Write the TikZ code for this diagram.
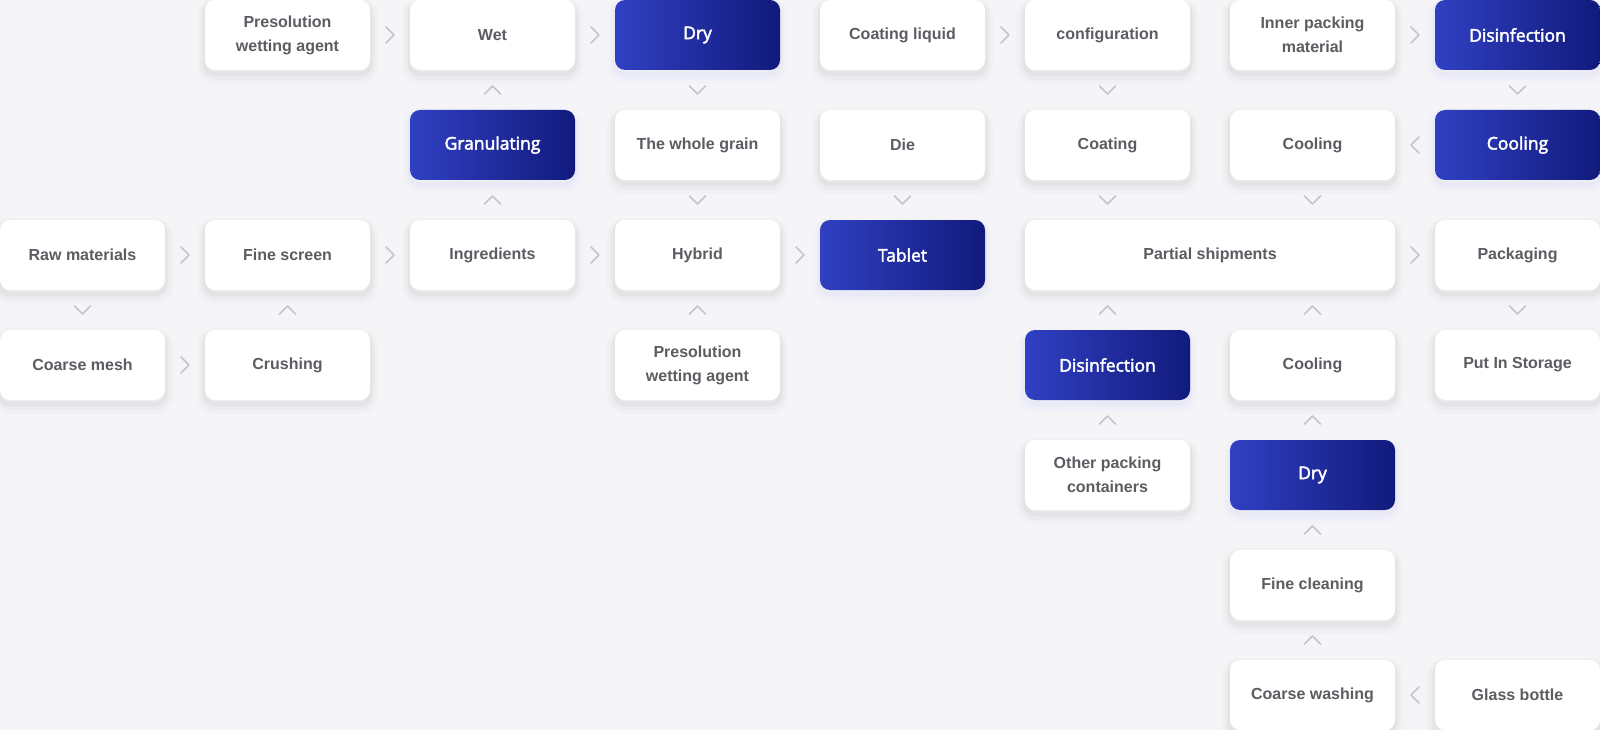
\documentclass[tikz,border=0pt]{standalone}
\usepackage{fontspec}
\setmainfont{Liberation Sans}
\newfontfamily\opensans{Open Sans}[FakeBold=2.6]
\usepackage{tikz}
\usetikzlibrary{decorations.markings}

\definecolor{bgcol}{HTML}{F5F5F7}
\definecolor{txtgrey}{HTML}{5C5C62}
\definecolor{blueL}{HTML}{3040C2}
\definecolor{blueR}{HTML}{111A7C}
\definecolor{chevgrey}{HTML}{C4C4CA}
\definecolor{glowblue}{HTML}{5C6CFF}

\tikzset{
  glow/.style={
    preaction={draw=#1, line width=16, draw opacity=0.015, transform canvas={yshift=-6}},
    preaction={draw=#1, line width=10, draw opacity=0.02, transform canvas={yshift=-5}},
    preaction={draw=#1, line width=5, draw opacity=0.03, transform canvas={yshift=-4}}},
  base/.style={rounded corners=10, minimum width=165, minimum height=70,
    inner sep=0, align=center},
  box/.style={base, glow=black, fill=white, text=txtgrey,
    font=\bfseries\fontsize{16}{24}\selectfont},
  hot/.style={base, glow=glowblue, left color=blueL, right color=blueR, text=white,
    font=\opensans\fontsize{17.5}{22}\selectfont},
  chevline/.style={draw=chevgrey, line width=1.6, line cap=round, line join=round},
  chev/.style={postaction=decorate, decoration={markings,
    mark=at position 0.5 with {\draw[chevline] (-4,-8) -- (4,0) -- (-4,8);}}}
}

\begin{document}
\begin{tikzpicture}[x=1pt,y=-1pt]
% Canvas
\path[use as bounding box, fill=bgcol] (0,0) rectangle (1600,730);
% Row 1
\node[box] (presol1) at (287.5,35) {Presolution\\wetting agent};
\node[box] (wet) at (492.5,35) {Wet};
\node[hot] (dry1) at (697.5,35) {Dry};
\node[box] (coatliq) at (902.5,35) {Coating liquid};
\node[box] (config) at (1107.5,35) {configuration};
\node[box] (inner) at (1312.5,35) {Inner packing\\material};
\node[hot] (disinf1) at (1517.5,35) {Disinfection};
% Row 2
\node[hot] (gran) at (492.5,145) {Granulating};
\node[box] (grain) at (697.5,145) {The whole grain};
\node[box] (die) at (902.5,145) {Die};
\node[box] (coating) at (1107.5,145) {Coating};
\node[box] (cool1) at (1312.5,145) {Cooling};
\node[hot] (cool2) at (1517.5,145) {Cooling};
% Row 3
\node[box] (raw) at (82.5,255) {Raw materials};
\node[box] (finescreen) at (287.5,255) {Fine screen};
\node[box] (ingr) at (492.5,255) {Ingredients};
\node[box] (hybrid) at (697.5,255) {Hybrid};
\node[hot] (tablet) at (902.5,255) {Tablet};
\node[box, minimum width=370] (partial) at (1210,255) {Partial shipments};
\node[box] (pack) at (1517.5,255) {Packaging};
% Row 4
\node[box] (coarsemesh) at (82.5,365) {Coarse mesh};
\node[box] (crush) at (287.5,365) {Crushing};
\node[box] (presol2) at (697.5,365) {Presolution\\wetting agent};
\node[hot] (disinf2) at (1107.5,365) {Disinfection};
\node[box] (cool3) at (1312.5,365) {Cooling};
\node[box] (storage) at (1517.5,365) {Put In Storage};
% Rows 5 to 7
\node[box] (other) at (1107.5,475) {Other packing\\containers};
\node[hot] (dry2) at (1312.5,475) {Dry};
\node[box] (finecl) at (1312.5,585) {Fine cleaning};
\node[box] (coarsew) at (1312.5,695) {Coarse washing};
\node[box] (glass) at (1517.5,695) {Glass bottle};
% Chevrons
\path[chev] (presol1) -- (wet);
\path[chev] (wet) -- (dry1);
\path[chev] (coatliq) -- (config);
\path[chev] (inner) -- (disinf1);
\path[chev] (gran) -- (wet);
\path[chev] (dry1) -- (grain);
\path[chev] (config) -- (coating);
\path[chev] (disinf1) -- (cool2);
\path[chev] (cool2) -- (cool1);
\path[chev] (ingr) -- (gran);
\path[chev] (grain) -- (hybrid);
\path[chev] (die) -- (tablet);
\path[chev] (coating) -- (coating |- partial.north);
\path[chev] (cool1) -- (cool1 |- partial.north);
\path[chev] (raw) -- (finescreen);
\path[chev] (finescreen) -- (ingr);
\path[chev] (ingr) -- (hybrid);
\path[chev] (hybrid) -- (tablet);
\path[chev] (partial) -- (pack);
\path[chev] (raw) -- (coarsemesh);
\path[chev] (crush) -- (finescreen);
\path[chev] (presol2) -- (hybrid);
\path[chev] (disinf2) -- (disinf2 |- partial.south);
\path[chev] (cool3) -- (cool3 |- partial.south);
\path[chev] (pack) -- (storage);
\path[chev] (coarsemesh) -- (crush);
\path[chev] (other) -- (disinf2);
\path[chev] (dry2) -- (cool3);
\path[chev] (finecl) -- (dry2);
\path[chev] (coarsew) -- (finecl);
\path[chev] (glass) -- (coarsew);
\end{tikzpicture}
\end{document}
